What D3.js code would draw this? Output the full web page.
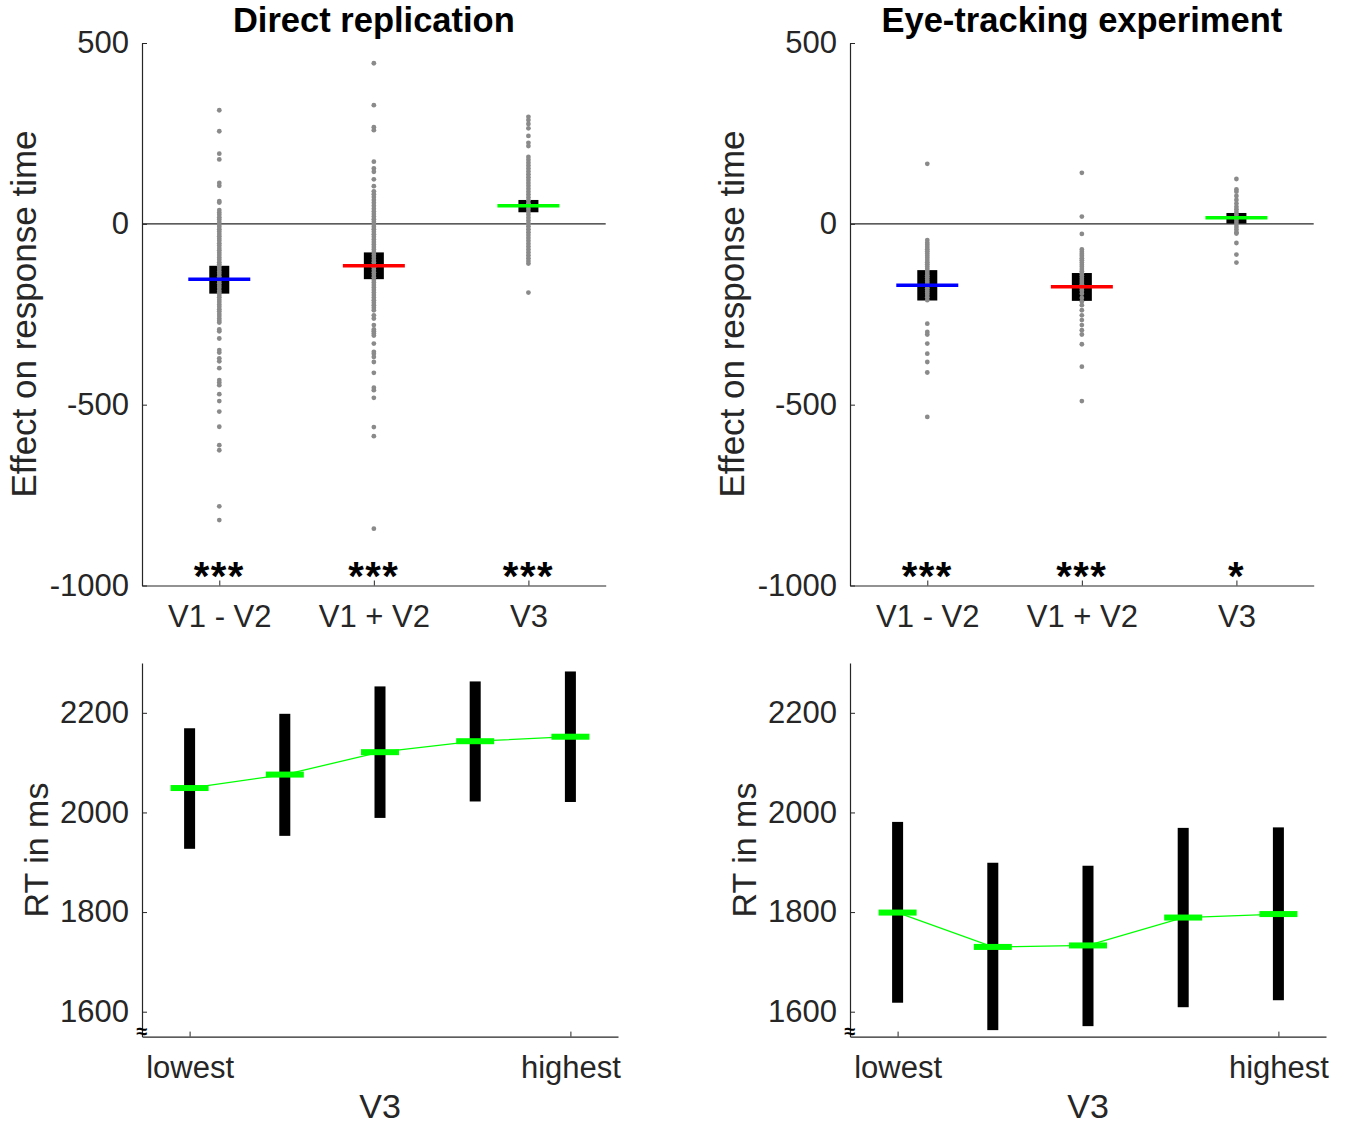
<!DOCTYPE html>
<html>
<head>
<meta charset="utf-8">
<script src="https://cdn.jsdelivr.net/npm/d3@7"></script>
<style>
  body { margin: 0; background: white; }
</style>
</head>
<body>
<div id="container"></div>
<script>
let w = 1348;
let h = 1125;
let font = "'Liberation Sans', Arial, Helvetica, sans-serif";
let axisColor = "#262626";

// effect panels (top row)
let effectCategories = ["V1 - V2", "V1 + V2", "V3"];
let effectColors = ["#0000ff", "#ff0000", "#00ff00"];
let effectTicks = [-1000, -500, 0, 500];

// direct replication, one value per participant
let directV1minusV2 = [314, 256, 194, 178, 113, 105, 63, 59, 38, 31, 25, 18, 12, 5, -2, -8, -15, -21, -28, -34,
  -41, -47, -54, -60, -67, -73, -80, -86, -93, -99, -106, -112, -119, -125, -132, -138, -145, -151, -158, -164,
  -171, -177, -184, -190, -197, -203, -210, -216, -223, -229, -236, -242, -249, -255, -262, -268, -273, -292,
  -297, -317, -349, -356, -372, -380, -399, -432, -439, -446, -471, -490, -519, -561, -612, -626, -781, -819];
let directV1plusV2 = [444, 328, 267, 259, 172, 153, 144, 123, 104, 90, 82, 74, 66, 58, 50, 42, 34, 27, 20, 13,
  6, -1, -8, -15, -22, -29, -36, -43, -50, -57, -64, -71, -78, -85, -92, -99, -106, -113, -120, -127, -134,
  -141, -148, -155, -162, -169, -176, -183, -190, -197, -204, -211, -218, -225, -232, -239, -253, -262, -280,
  -292, -297, -303, -309, -331, -354, -359, -368, -382, -412, -453, -460, -481, -562, -587, -843];
let directV3 = [296, 287, 276, 264, 243, 224, 215, 185, 177, 169, 161, 153, 145, 137, 129, 121, 113, 105, 97,
  89, 81, 73, 65, 57, 49, 41, 33, 25, 17, 9, 1, -7, -15, -23, -31, -39, -47, -55, -63, -71, -79, -87, -95,
  -103, -110, -190];
let directBoxLow = [-193, -153, 32];
let directBoxHigh = [-116, -79, 66];
let directMean = [-153, -116, 50];
let directStars = ["***", "***", "***"];

// eye-tracking experiment
let eyeV1minusV2 = [166, -45, -52, -58, -64, -70, -76, -82, -88, -94, -100, -106, -112, -118, -124, -130, -136,
  -142, -148, -154, -160, -166, -172, -178, -184, -190, -196, -203, -211, -276, -299, -306, -331, -359, -382,
  -411, -534];
let eyeV1plusV2 = [141, 20, -28, -71, -77, -83, -89, -95, -101, -107, -113, -119, -125, -131, -137, -143, -149,
  -155, -161, -167, -173, -179, -185, -193, -205, -215, -225, -239, -253, -266, -280, -294, -306, -333, -395,
  -490];
let eyeV3 = [124, 95, 89, 77, 66, 56, 47, 40, 33, 26, 19, 12, 5, -2, -9, -16, -23, -27, -53, -85, -107];
let eyeBoxLow = [-212, -213, 1];
let eyeBoxHigh = [-128, -136, 30];
let eyeMean = [-170, -174, 17];
let eyeStars = ["***", "***", "*"];

// RT panels (bottom row)
let v3Levels = [1, 2, 3, 4, 5];
let v3TickValues = [1, 5];
let v3TickLabels = ["lowest", "highest"];
let rtTicks = [1600, 1800, 2000, 2200];

let directRtMean = [2049, 2076, 2121, 2143, 2152];
let directRtLow = [1927, 1953, 1989, 2022, 2021];
let directRtHigh = [2169, 2198, 2253, 2263, 2283];

let eyeRtMean = [1799, 1730, 1733, 1789, 1796];
let eyeRtLow = [1618, 1563, 1571, 1609, 1623];
let eyeRtHigh = [1981, 1899, 1893, 1969, 1970];

let viz = d3.select("#container")
  .append("svg")
    .attr("width", w)
    .attr("height", h)
    .style("background-color", "white")
;

function styleAxis(axisGroup) {
  axisGroup.attr("font-size", 31).attr("font-family", font);
  axisGroup.select(".domain").attr("stroke", axisColor).attr("stroke-width", 1.2);
  axisGroup.selectAll(".tick line").attr("stroke", axisColor).attr("stroke-width", 1);
  axisGroup.selectAll(".tick text").attr("fill", axisColor);
}

function drawEffectPanel(left, right, title, series, boxLow, boxHigh, means, stars) {
  let xScale = d3.scaleLinear().domain([0.5, 3.5]).range([left, right]);
  let yScale = d3.scaleLinear().domain([-1000, 500]).range([585.5, 43]);
  let g = viz.append("g");

  // zero line
  g.append("line")
    .attr("x1", left).attr("x2", right)
    .attr("y1", yScale(0)).attr("y2", yScale(0))
    .attr("stroke", axisColor)
    .attr("stroke-width", 1.2);

  // black boxes
  g.selectAll(".box").data(boxLow).enter().append("rect")
    .attr("class", "box")
    .attr("x", function(d, i) { return xScale(i + 1) - 10; })
    .attr("width", 20)
    .attr("y", function(d, i) { return yScale(boxHigh[i]); })
    .attr("height", function(d, i) { return yScale(d) - yScale(boxHigh[i]); })
    .attr("fill", "black");

  // participant dots
  series.forEach(function(vals, i) {
    g.selectAll(".dot" + i).data(vals).enter().append("circle")
      .attr("class", "dot" + i)
      .attr("cx", xScale(i + 1))
      .attr("cy", function(d) { return yScale(d); })
      .attr("r", 2.4)
      .attr("fill", "#8a8a8a");
  });

  // mean lines
  g.selectAll(".mean").data(means).enter().append("line")
    .attr("class", "mean")
    .attr("x1", function(d, i) { return xScale(i + 1) - 31; })
    .attr("x2", function(d, i) { return xScale(i + 1) + 31; })
    .attr("y1", function(d) { return yScale(d); })
    .attr("y2", function(d) { return yScale(d); })
    .attr("stroke", function(d, i) { return effectColors[i]; })
    .attr("stroke-width", 3.5);

  // significance stars
  g.selectAll(".stars").data(stars).enter().append("text")
    .attr("class", "stars")
    .text(function(d) { return d; })
    .attr("x", function(d, i) { return xScale(i + 1); })
    .attr("y", 590)
    .attr("text-anchor", "middle")
    .attr("font-family", font)
    .attr("font-weight", "bold")
    .attr("font-size", 40)
    .attr("letter-spacing", 1.5)
    .attr("fill", "black");

  let yAxisGroup = g.append("g")
    .attr("transform", "translate(" + left + ",0)")
    .call(d3.axisLeft(yScale).tickValues(effectTicks).tickSizeInner(-5).tickSizeOuter(0)
      .tickPadding(13).tickFormat(function(d) { return String(d); }));
  styleAxis(yAxisGroup);

  let xAxisGroup = g.append("g")
    .attr("transform", "translate(0," + yScale(-1000) + ")")
    .call(d3.axisBottom(xScale).tickValues([1, 2, 3]).tickSizeInner(-5).tickSizeOuter(0)
      .tickPadding(19).tickFormat(function(d) { return effectCategories[d - 1]; }));
  styleAxis(xAxisGroup);

  g.append("text")
    .text(title)
    .attr("x", (left + right) / 2)
    .attr("y", 32)
    .attr("text-anchor", "middle")
    .attr("font-family", font)
    .attr("font-weight", "bold")
    .attr("font-size", 34.5)
    .attr("fill", "black");

  g.append("text")
    .text("Effect on response time")
    .attr("transform", "translate(" + (left - 106) + ",314) rotate(-90)")
    .attr("text-anchor", "middle")
    .attr("font-family", font)
    .attr("font-size", 35)
    .attr("fill", axisColor);
}

function drawRtPanel(left, right, means, lows, highs) {
  let xScale = d3.scaleLinear().domain([0.5, 5.5]).range([left, right]);
  let yScale = d3.scaleLinear().domain([1550, 2300]).range([1036.6, 663]);
  let g = viz.append("g");

  g.selectAll(".bar").data(v3Levels).enter().append("rect")
    .attr("class", "bar")
    .attr("x", function(d) { return xScale(d) - 5.5; })
    .attr("width", 11)
    .attr("y", function(d, i) { return yScale(highs[i]); })
    .attr("height", function(d, i) { return yScale(lows[i]) - yScale(highs[i]); })
    .attr("fill", "black");

  let line = d3.line()
    .x(function(d) { return xScale(d); })
    .y(function(d, i) { return yScale(means[i]); });

  g.append("path")
    .datum(v3Levels)
    .attr("d", line)
    .attr("fill", "none")
    .attr("stroke", "#00ff00")
    .attr("stroke-width", 1.3);

  g.selectAll(".marker").data(v3Levels).enter().append("rect")
    .attr("class", "marker")
    .attr("x", function(d) { return xScale(d) - 19; })
    .attr("width", 38)
    .attr("y", function(d, i) { return yScale(means[i]) - 3; })
    .attr("height", 6)
    .attr("fill", "#00ff00");

  let yAxisGroup = g.append("g")
    .attr("transform", "translate(" + left + ",0)")
    .call(d3.axisLeft(yScale).tickValues(rtTicks).tickSizeInner(-5).tickSizeOuter(0)
      .tickPadding(13).tickFormat(function(d) { return String(d); }));
  styleAxis(yAxisGroup);

  let xAxisGroup = g.append("g")
    .attr("transform", "translate(0," + yScale(1550) + ")")
    .call(d3.axisBottom(xScale).tickValues(v3TickValues).tickSizeInner(-5).tickSizeOuter(0)
      .tickPadding(19).tickFormat(function(d, i) { return v3TickLabels[i]; }));
  styleAxis(xAxisGroup);

  // axis break mark
  g.append("text")
    .text("\u2248")
    .attr("x", left)
    .attr("y", 1038)
    .attr("text-anchor", "middle")
    .attr("font-family", font)
    .attr("font-weight", "bold")
    .attr("font-size", 20)
    .attr("fill", "black");

  g.append("text")
    .text("V3")
    .attr("x", (left + right) / 2)
    .attr("y", 1118)
    .attr("text-anchor", "middle")
    .attr("font-family", font)
    .attr("font-size", 34)
    .attr("fill", axisColor);

  g.append("text")
    .text("RT in ms")
    .attr("transform", "translate(" + (left - 94) + ",850) rotate(-90)")
    .attr("text-anchor", "middle")
    .attr("font-family", font)
    .attr("font-size", 34)
    .attr("fill", axisColor);
}

drawEffectPanel(142, 605.7, "Direct replication", [directV1minusV2, directV1plusV2, directV3],
  directBoxLow, directBoxHigh, directMean, directStars);
drawEffectPanel(850, 1313.7, "Eye-tracking experiment", [eyeV1minusV2, eyeV1plusV2, eyeV3],
  eyeBoxLow, eyeBoxHigh, eyeMean, eyeStars);

drawRtPanel(142, 618, directRtMean, directRtLow, directRtHigh);
drawRtPanel(850, 1326, eyeRtMean, eyeRtLow, eyeRtHigh);
</script>
</body>
</html>
